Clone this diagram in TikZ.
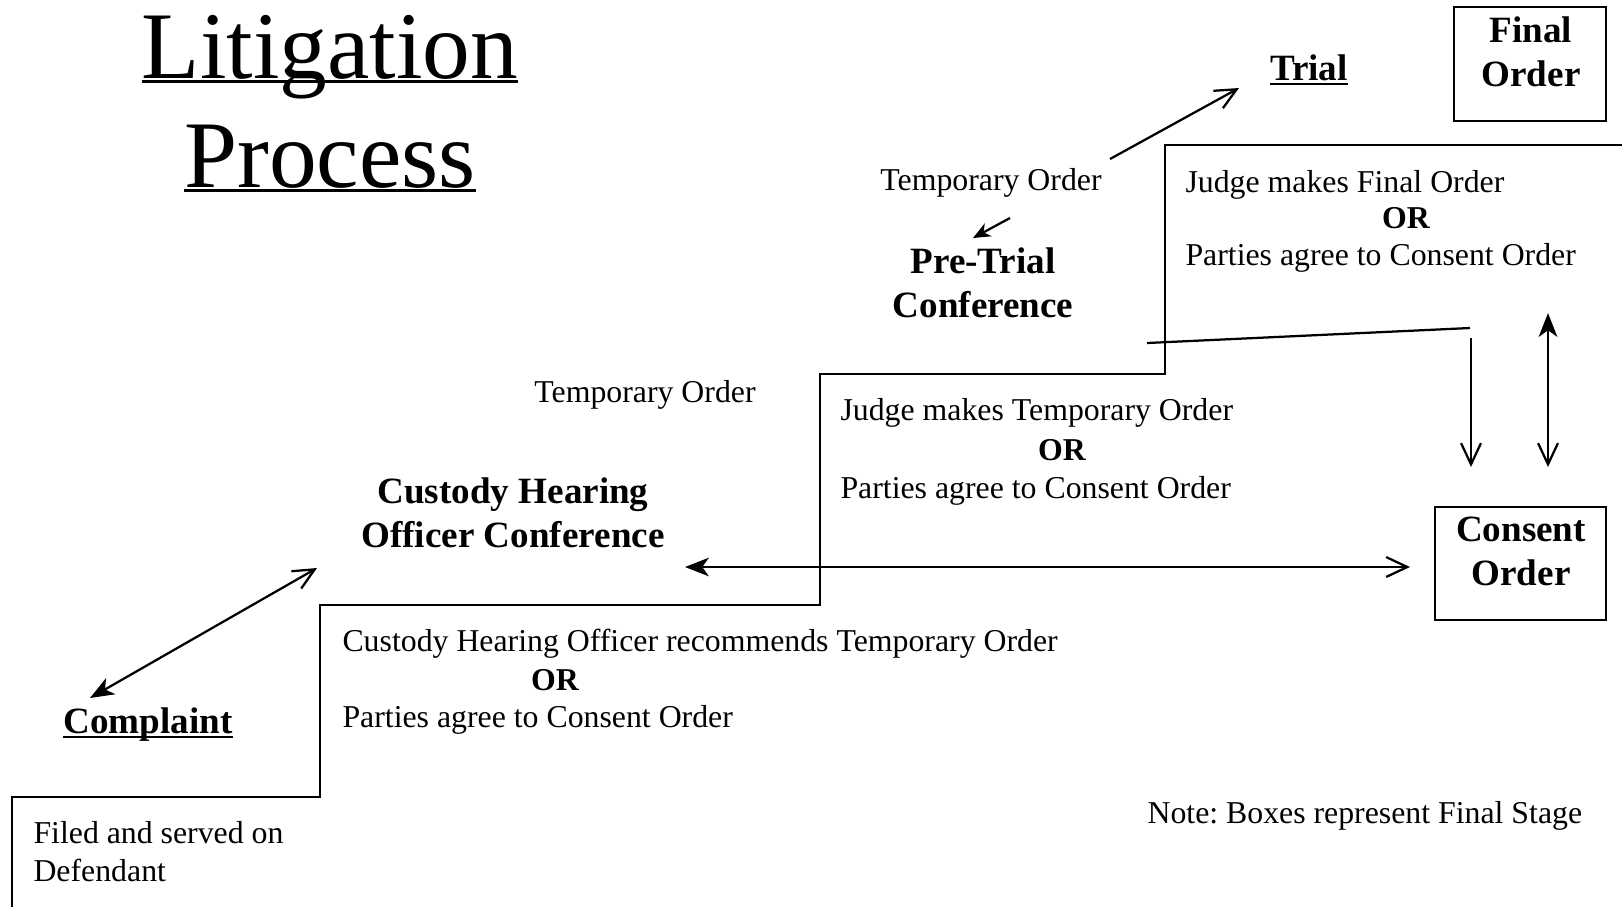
\documentclass[tikz,border=0pt]{standalone}
\usepackage{fontspec}
\setmainfont{Liberation Serif}
\usetikzlibrary{arrows.meta}
\frenchspacing
\newcommand{\undl}[2][2pt]{\setbox0=\hbox{#2}\rlap{\rule[-#1]{\wd0}{0.9pt}}\box0}

\begin{document}
\begin{tikzpicture}[x=0.3773pt, y=-0.3773pt,
    stair/.style={draw, line width=1.05pt, line join=miter},
    endbox/.style={draw, line width=0.85pt},
    link/.style={draw, line width=0.85pt},
    fwd/.style={-{Straight Barb[length=8pt,width=7.5pt]}},
    bck/.style={{Stealth[length=9pt,width=7pt,inset=2.5pt]}-{Straight Barb[length=8pt,width=7.5pt]}},
    small/.style={-{Stealth[length=6.5pt,width=5.5pt,inset=2pt]}},
    plain/.style={font=\fontsize{12}{14.2}\selectfont, inner sep=0pt},
    orword/.style={font=\fontsize{12}{14.2}\selectfont\bfseries, inner sep=0pt},
    head/.style={font=\fontsize{14}{16.6}\selectfont\bfseries, align=center, inner sep=0pt},
    title/.style={font=\fontsize{36}{41}\selectfont, align=center, inner sep=0pt}
]
    \useasboundingbox (0,0) rectangle (1622,907);

    \draw[stair] (12,907) -- (12,797) -- (320,797) -- (320,605) -- (820,605)
        -- (820,374) -- (1165,374) -- (1165,145) -- (1622,145);

    \node[title, anchor=base] (title) at (330,187) {\undl[1.7pt]{Litigation}\\\undl[1.7pt]{Process}};

    \node[head, anchor=base] (complaint) at (148,733) {\undl{Complaint}};
    \node[plain, anchor=base west, align=left] (filed) at (33,881) {Filed and served on\\Defendant};

    \node[head, anchor=base] (chearing) at (513,547) {Custody Hearing\\Officer Conference};
    \node[plain, anchor=base west] (chrec) at (342,651) {Custody Hearing Officer recommends Temporary Order};
    \node[orword, anchor=base] (chor) at (555,690) {OR};
    \node[plain, anchor=base west] (chagree) at (342,727) {Parties agree to Consent Order};

    \node[plain, anchor=base] (tmpmid) at (645,402) {Temporary Order};
    \node[plain, anchor=base west] (jtmp) at (840,420) {Judge makes Temporary Order};
    \node[orword, anchor=base] (jtor) at (1062,460) {OR};
    \node[plain, anchor=base west] (jtagree) at (840,498) {Parties agree to Consent Order};

    \node[head, anchor=base] (pretrial) at (983,317) {Pre-Trial\\Conference};
    \node[plain, anchor=base] (tmptop) at (991,190) {Temporary Order};

    \node[head, anchor=base] (trial) at (1309,80) {\undl{Trial}};
    \node[plain, anchor=base west] (jfin) at (1185,192) {Judge makes Final Order};
    \node[orword, anchor=base] (jfor) at (1406,228) {OR};
    \node[plain, anchor=base west] (jfagree) at (1185,265) {Parties agree to Consent Order};

    \draw[endbox] (1454,7) rectangle (1606,121);
    \node[head, anchor=base] (final) at (1531,86) {Final\\Order};
    \draw[endbox] (1435,507) rectangle (1606,620);
    \node[head, anchor=base] (consent) at (1521,585) {Consent\\Order};

    \node[plain, anchor=base west] (note) at (1147,823) {Note: Boxes represent Final Stage};

    \coordinate (cpl) at (90,698);
    \coordinate (chr) at (317,568);
    \coordinate (hleft) at (685,567);
    \coordinate (hright) at (1410,567);
    \coordinate (ptfrom) at (1010,218);
    \coordinate (ptto) at (973,238);
    \coordinate (trfrom) at (1110,159);
    \coordinate (trto) at (1239,88);
    \coordinate (sla) at (1147,343);
    \coordinate (slb) at (1470,328);
    \coordinate (dtop) at (1471,338);
    \coordinate (dbot) at (1471,467);
    \coordinate (vtop) at (1548,313);
    \coordinate (vbot) at (1548,467);

    \draw[link, bck] (cpl) -- (chr);
    \draw[link, bck] (hleft) -- (hright);
    \draw[link, small] (ptfrom) -- (ptto);
    \draw[link, fwd] (trfrom) -- (trto);
    \draw[link] (sla) -- (slb);
    \draw[link, fwd] (dtop) -- (dbot);
    \draw[link, bck] (vtop) -- (vbot);

\end{tikzpicture}
\end{document}
